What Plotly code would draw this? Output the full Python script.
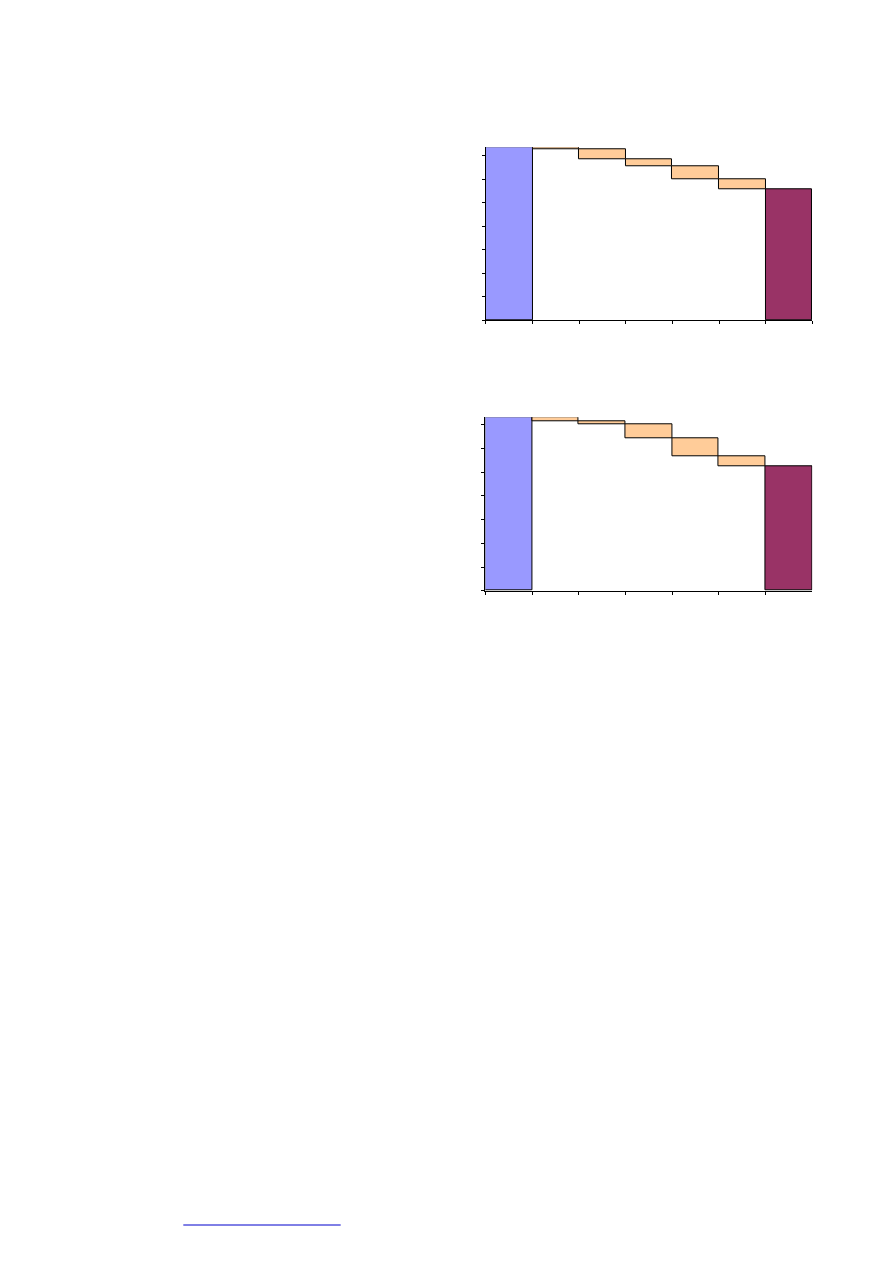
import plotly.graph_objects as go

categories = ["Start", "Step 1", "Step 2", "Step 3", "Step 4", "Step 5", "End"]

# Chart 1 (top)
start_1 = 73.6
drops_1 = [0.85, 4.26, 2.98, 5.54, 4.12]

# Chart 2 (bottom)
start_2 = 73.2
drops_2 = [1.55, 1.27, 6.05, 7.61, 4.22]

BLUE = "#9999FF"
ORANGE = "#FFCC99"
PURPLE = "#993366"


def waterfall_traces(start, drops, xa, ya):
    traces = []
    end = start - sum(drops)
    traces.append(go.Bar(x=[categories[0]], y=[start], marker=dict(color=BLUE, line=dict(color="black", width=1)),
                         xaxis=xa, yaxis=ya, showlegend=False))
    level = start
    bases, heights, cats = [], [], []
    for i, d in enumerate(drops):
        level -= d
        bases.append(level)
        heights.append(d)
        cats.append(categories[i + 1])
    traces.append(go.Bar(x=cats, y=heights, base=bases, marker=dict(color=ORANGE, line=dict(color="black", width=1)),
                         xaxis=xa, yaxis=ya, showlegend=False))
    traces.append(go.Bar(x=[categories[-1]], y=[end], marker=dict(color=PURPLE, line=dict(color="black", width=1)),
                         xaxis=xa, yaxis=ya, showlegend=False))
    return traces


fig = go.Figure()
for t in waterfall_traces(start_1, drops_1, "x", "y"):
    fig.add_trace(t)
for t in waterfall_traces(start_2, drops_2, "x2", "y2"):
    fig.add_trace(t)

xcommon = dict(showticklabels=False, ticks="outside", ticklen=3, tickcolor="black", tickwidth=1,
               showline=True, linecolor="black", linewidth=1, showgrid=False, zeroline=False,
               tickson="boundaries", categoryorder="array", categoryarray=categories, fixedrange=True)
ycommon = dict(showticklabels=False, ticks="outside", ticklen=3, tickcolor="black", tickwidth=1,
               showline=True, linecolor="black", linewidth=1, showgrid=False, zeroline=False,
               dtick=10, tick0=0)

fig.update_layout(
    width=893, height=1263,
    margin=dict(l=0, r=0, t=0, b=0),
    paper_bgcolor="white", plot_bgcolor="white",
    barmode="overlay", bargap=0,
    xaxis=dict(domain=[0.5442, 0.9096], anchor="y", **xcommon),
    yaxis=dict(domain=[0.7466, 0.8834], anchor="x", range=[0, start_1], **ycommon),
    xaxis2=dict(domain=[0.5436, 0.9096], anchor="y2", **xcommon),
    yaxis2=dict(domain=[0.5323, 0.6696], anchor="x2", range=[0, start_2], **ycommon),
    shapes=[dict(type="line", xref="paper", yref="paper", x0=183.3 / 893, x1=340.7 / 893,
                 y0=1 - 1225 / 1263, y1=1 - 1225 / 1263, line=dict(color="#0000CC", width=1))],
)

fig.write_html("out.html")
